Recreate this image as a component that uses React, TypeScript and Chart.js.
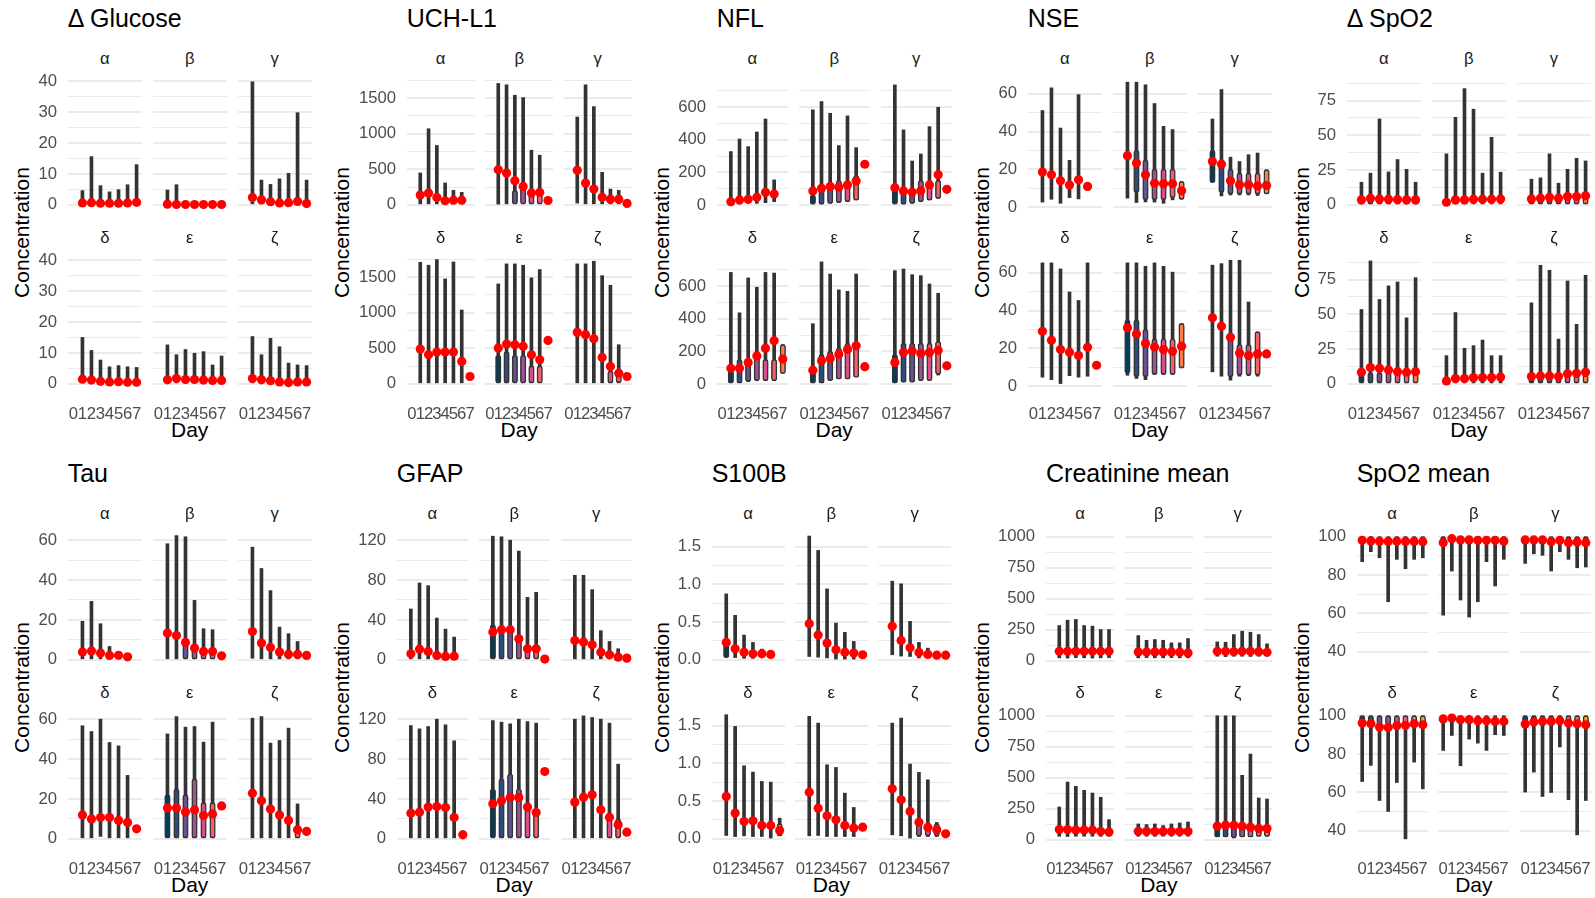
import React, { useEffect, useRef } from "react";
import { Chart, registerables } from "chart.js";
Chart.register(...registerables);

const FONT = '"Liberation Sans", Arial, Helvetica, sans-serif';
const PALETTE = ["#003f5c", "#2f4b7c", "#665191", "#a05195", "#d45087", "#f95d6a", "#ff7c43", "#ffa600"];
const FACET_LABELS = ["α", "β", "γ", "δ", "ε", "ζ"];
const DAYS = [0, 1, 2, 3, 4, 5, 6, 7];
const DAY_LABELS = ["0", "1", "2", "3", "4", "5", "6", "7"];
const N = null;
const E = [N, N, N, N, N, N, N, N];

// ---------- Δ Glucose ----------
const glucoseMax = [
  [N, 4.6, 15.6, 6.2, 4.2, 4.9, 6.5, 13],
  [N, 4.8, 6.5, 0.8, 0.6, 0.6, 0.6, 0.6],
  [N, 39.8, 8, 6.6, 8.4, 10.2, 29.8, 8],
  [N, 15, 10.8, 7.7, 5.5, 5.9, 5.5, 5.3],
  [N, 12.6, 9.4, 11.1, 9.9, 10.4, 6.1, 9],
  [N, 15.3, 9.4, 14.7, 12, 6.7, 6.1, 5.9],
];
const glucoseMin = [
  [N, 0, 0, 0, 0, 0, 0, 0],
  [N, 0, 0, 0, 0, 0, 0, 0],
  [N, 0, 0, 0, 0, 0, 0, 0],
  [N, 0, 0, 0, 0, 0, 0, 0],
  [N, 0, 0, 0, 0, 0, 0, 0],
  [N, 0, 0, 0, 0, 0, 0, 0],
];
const glucoseMean = [
  [N, 0.6, 0.7, 0.5, 0.5, 0.5, 0.6, 0.8],
  [N, 0.2, 0.1, 0.1, 0.1, 0.1, 0.1, 0.1],
  [N, 2.4, 1.6, 1, 0.6, 0.7, 1.1, 0.4],
  [N, 1.5, 1.2, 0.8, 0.6, 0.7, 0.5, 0.5],
  [N, 1.3, 1.7, 1.4, 1.4, 1.2, 1.1, 1.1],
  [N, 1.7, 1.3, 1, 0.6, 0.4, 0.6, 0.6],
];

// ---------- UCH-L1 ----------
const uchMax = [
  [N, 448, 1071, 835, 307, 203, 175, N],
  [N, 1708, 1689, 1542, 1509, 769, 698, N],
  [N, 1236, 1689, 1382, 458, 222, 203, N],
  [N, 1711, 1669, 1749, 1476, 1716, 1039, 140],
  [N, 1406, 1688, 1688, 1669, 1490, 1608, N],
  [N, 1688, 1688, 1725, 1523, 1387, 550, N],
];
const uchMin = [
  [N, 0, 0, 0, 0, 0, 0, N],
  [N, 10, 0, 0, 0, 0, 0, N],
  [N, 24, 0, 0, 0, 0, 0, N],
  [N, 0, 0, 0, 0, 0, 0, 60],
  [N, 0, 0, 0, 0, 0, 0, N],
  [N, 0, 0, 0, 0, 0, 0, N],
];
const uchMean = [
  [N, 137, 165, 104, 57, 66, 66, N],
  [N, 495, 448, 340, 259, 165, 175, 61],
  [N, 486, 307, 222, 108, 80, 80, 19],
  [N, 489, 409, 447, 447, 447, 315, 103],
  [N, 503, 560, 550, 527, 409, 338, 611],
  [N, 724, 691, 635, 371, 244, 150, 103],
];
const uchBody = [
  E,
  [N, N, N, [0, 200], [0, 250], [0, 150], [0, 150], N],
  E,
  E,
  [N, [0, 400], [0, 450], [0, 400], [0, 400], [0, 250], [0, 250], N],
  [N, N, N, N, N, [0, 180], [20, 180], N],
];

// ---------- NFL ----------
const nflMax = [
  [N, 328, 405, 358, 448, 528, 154, N],
  [N, 584, 635, 563, 365, 547, 352, N],
  [N, 737, 461, 270, 313, 481, 600, N],
  [N, 685, 437, 651, 594, 685, 681, 242],
  [N, 370, 750, 675, 578, 569, 675, N],
  [N, 696, 706, 671, 665, 614, 557, N],
];
const nflMin = [
  [N, 6, 6, 10, 10, 14, 20, N],
  [N, 6, 6, 10, 14, 20, 31, N],
  [N, 0, 6, 10, 20, 31, 41, N],
  [N, 8, 8, 14, 20, 20, 20, 65],
  [N, 8, 8, 24, 35, 35, 45, N],
  [N, 8, 14, 14, 20, 24, 55, N],
];
const nflMean = [
  [N, 20, 31, 35, 47, 78, 68, N],
  [N, 86, 102, 113, 109, 123, 147, 250],
  [N, 106, 86, 78, 88, 123, 186, 96],
  [N, 96, 96, 132, 171, 220, 266, 153],
  [N, 85, 142, 157, 183, 212, 234, 106],
  [N, 132, 193, 203, 187, 193, 207, 112],
];
const nflBody = [
  E,
  [N, [5, 60], [5, 120], [10, 140], [15, 150], [20, 150], [30, 180], N],
  [N, [0, 100], [5, 100], [10, 100], [20, 150], [30, 130], [40, 150], N],
  [N, [5, 80], [5, 150], [15, 150], [20, 200], [20, 150], [20, 150], [65, 242]],
  [N, [5, 80], [5, 180], [20, 200], [30, 220], [30, 250], [40, 250], N],
  [N, [5, 180], [10, 250], [10, 250], [20, 250], [20, 250], [60, 260], N],
];

// ---------- NSE ----------
const nseMax = [
  [N, 51.2, 63.2, 41.9, 24.8, 59.6, 12.7, N],
  [N, 66.2, 66.2, 64.8, 54.9, 42.8, 41.1, 13.6],
  [N, 46.7, 62.3, 26.5, 24.2, 27.8, 28.7, 19.8],
  [N, 65.3, 65.3, 62.1, 49.9, 45.4, 65.3, N],
  [N, 65.3, 65.3, 63.5, 65.3, 63.5, 60.4, 33.2],
  [N, 64.1, 64.9, 66.7, 66.7, 44.6, 28.8, N],
];
const nseMin = [
  [N, 2.7, 4.2, 2.1, 5.1, 4.4, 8.8, N],
  [N, 4.8, 2.5, 2.8, 2.7, 2.1, 3.9, 4.2],
  [N, 13.1, 6, 6.5, 6.5, 6.5, 6.2, 7.1],
  [N, 4.8, 3.5, 1.4, 5.6, 4.8, 5.3, N],
  [N, 5.8, 4.1, 3.5, 6.2, 6.2, 6.2, 9.7],
  [N, 7.6, 5.3, 3.2, 5.3, 5.6, 5.3, N],
];
const nseMean = [
  [N, 18.6, 17.2, 14, 11.7, 14.5, 11, N],
  [N, 27.3, 23.4, 17.2, 12.7, 12.4, 12.4, 8.7],
  [N, 24.2, 22.8, 14, 11.9, 11.9, 11.3, 11.5],
  [N, 29.1, 24.4, 19.4, 18, 16.2, 20.6, 11.1],
  [N, 30.9, 27.7, 22.6, 20.8, 19.4, 18.5, 21.2],
  [N, 36.2, 31.8, 25.9, 17.6, 16.2, 17.1, 17.1],
];
const nseBody = [
  E,
  [N, N, [8, 30], [4, 25], [4, 20], [4, 20], [5, 20], [4.2, 13.6]],
  [N, [13.1, 30], [8, 25], [7, 20], [7, 18], [7, 18], [7, 18], [7.1, 19.8]],
  E,
  [N, [7, 35], [5, 35], [5, 30], [6.2, 25], [6.2, 25], [6.2, 25], [9.7, 33.2]],
  [N, N, N, [5, 25], [6, 22], [6, 22], [6, 28.8], N],
];

// ---------- Δ SpO2 ----------
const dSpo2Max = [
  [N, 16.3, 22.8, 61.8, 23.7, 32.6, 25.6, 16.3],
  [N, 36.7, 63, 83.6, 68.8, 22.8, 48.6, 23.5],
  [N, 18.5, 19.4, 36.7, 15.6, 25.6, 33.5, 31.6],
  [N, 53.5, 88.4, 60.7, 70.5, 73.3, 47.5, 76.4],
  [N, 20.3, 51.3, 25.6, 27.5, 31.5, 20.3, 20.3],
  [N, 58.3, 85.3, 81.7, 32.2, 74, 42.8, 78.1],
];
const dSpo2Min = [
  [N, 0, 0, 0, 0, 0, 0, 0],
  [N, 0, 0, 0, 0, 0, 0, 0],
  [N, 0, 0, 0, 0, 0, 0, 0],
  [N, 0, 0, 0, 0, 0, 0, 0],
  [N, 0, 0, 0, 0, 0, 0, 0],
  [N, 0, 0, 0, 0, 0, 0, 0],
];
const dSpo2Mean = [
  [N, 3.6, 4.8, 4.3, 4.1, 3.8, 3.6, 3.6],
  [N, 1.9, 3.6, 3.6, 4.1, 4.1, 4.1, 4.3],
  [N, 4.3, 4.8, 5.5, 4.8, 6, 6, 6.5],
  [N, 8.4, 11.7, 11.2, 10, 8.8, 8.4, 8.8],
  [N, 2.1, 3.8, 3.8, 4.5, 4.5, 4.5, 5],
  [N, 5.3, 5.7, 5.7, 5.3, 7.2, 7.6, 8.4],
];
const dSpo2Body = [
  [N, [0, 6], [0, 6], [0, 6], [0, 6], [0, 6], [0, 6], [0, 6]],
  E,
  [N, [0, 6], [0, 6], [0, 6], [0, 6], [0, 6], [0, 6], [0, 6]],
  [N, [0, 8], [0, 8], [0, 8], [0, 8], [0, 8], [0, 8], [0, 8]],
  E,
  [N, [0, 6], [0, 6], [0, 6], [0, 6], [0, 6], [0, 6], [0, 6]],
];

// ---------- Tau ----------
const tauMax = [
  [N, 19.3, 29.3, 18.1, 6.7, 4.2, 2.5, N],
  [N, 58.2, 62.3, 61.7, 29.8, 15.6, 15.1, N],
  [N, 56.5, 45.8, 34.7, 16.4, 13.1, 9.2, N],
  [N, 56.7, 53.8, 60, 48.3, 46.6, 31.8, N],
  [N, 52.6, 61.3, 56, 56.3, 48.5, 58.5, N],
  [N, 60.5, 61.3, 48, 49.3, 55.5, 17.5, N],
];
const tauMin = [
  [N, 0, 0, 0, 0, 0, 0, N],
  [N, 0, 0, 0, 0, 0, 0, N],
  [N, 0.8, 0, 0, 0, 0, 0, N],
  [N, 0, 0, 1.2, 0, 0, 0, N],
  [N, 0, 0, 0, 0, 0, 0, N],
  [N, 0, 0, 0, 0, 0, 0, N],
];
const tauMean = [
  [N, 3.9, 4.4, 3.4, 2.2, 2.3, 1.5, N],
  [N, 13.4, 12.2, 8.7, 5.9, 4.2, 4.2, 2],
  [N, 14.2, 8.4, 6.2, 3.9, 2.8, 2.7, 2.2],
  [N, 12, 9.9, 10.7, 10.7, 9.2, 8.2, 5],
  [N, 15.4, 15.4, 13.4, 14.5, 11.7, 12.5, 16.5],
  [N, 22.9, 19.1, 14.9, 12, 9.2, 4.5, 3.7],
];
const tauBody = [
  E,
  [N, N, N, [0, 10], [0, 8], [0, 6], [0, 6], N],
  E,
  E,
  [N, [0, 22], [0, 25], [0, 22], [0, 30], [0, 18], [0, 18], N],
  [N, N, N, N, N, N, [0, 6], N],
];

// ---------- GFAP ----------
const gfapMax = [
  [N, 51, 77.1, 74.4, 41.9, 30.8, 22.8, N],
  [N, 124, 123.4, 120, 109, 62.7, 67.7, N],
  [N, 84.8, 84.8, 70.4, 29.2, 18.4, 11.1, N],
  [N, 113.6, 110.3, 112.6, 120, 114.3, 98.3, 8],
  [N, 118.6, 117, 115.3, 120, 117.6, 116, N],
  [N, 120, 123.3, 121.7, 120, 116, 74.9, N],
];
const gfapMin = [
  [N, 0, 0, 0, 0, 0, 0, N],
  [N, 0, 0, 0, 0, 0, 0, N],
  [N, 0, 0, 0, 0, 0, 0, N],
  [N, 0, 0, 0, 0, 0, 0, 0],
  [N, 0, 0, 0, 0, 0, 0, N],
  [N, 0, 0, 0, 0, 0, 0, N],
];
const gfapMean = [
  [N, 6, 10.7, 8.4, 4.4, 3.4, 3.7, N],
  [N, 27.8, 30.2, 30.2, 21.1, 11.1, 11.1, 0.7],
  [N, 19.4, 17.8, 15.1, 7.7, 5, 2.7, 1.7],
  [N, 25.7, 26.7, 31.8, 32.4, 31.4, 21.4, 4],
  [N, 35.1, 38.1, 41.4, 41.4, 31.8, 26.4, 67.5],
  [N, 36.8, 41.8, 44.1, 29.1, 21.7, 14, 6.7],
];
const gfapBody = [
  E,
  [N, [0, 35], [0, 30], [0, 28], [0, 22], [0, 15], [0, 15], N],
  E,
  [N, N, N, N, N, N, N, [0, 8]],
  [N, [0, 50], [0, 60], [0, 65], [0, 50], [0, 35], [0, 28], N],
  [N, N, N, N, N, [0, 20], [0, 20], N],
];

// ---------- S100B ----------
const s100bMax = [
  [N, 0.874, 0.59, 0.328, 0.231, 0.142, 0.11, N],
  [N, 1.642, 1.451, 0.941, 0.488, 0.364, 0.244, 0.1],
  [N, 1.043, 1.008, 0.51, 0.231, 0.155, 0.11, N],
  [N, 1.646, 1.491, 0.969, 0.885, 0.761, 0.752, 0.274],
  [N, 1.624, 1.535, 0.982, 0.947, 0.606, 0.416, N],
  [N, 1.535, 1.602, 0.991, 0.881, 0.783, 0.217, N],
];
const s100bMin = [
  [N, 0.035, 0.03, 0.02, 0.02, 0.03, 0.04, N],
  [N, 0.044, 0.035, 0.025, 0.01, 0.01, 0.01, 0.06],
  [N, 0.067, 0.05, 0.044, 0.025, 0.03, 0.04, N],
  [N, 0.044, 0.03, 0.04, 0.03, 0.03, 0.01, 0.04],
  [N, 0.04, 0.044, 0.03, 0.03, 0.03, 0.03, N],
  [N, 0.053, 0.04, 0.01, 0.03, 0.03, 0.03, N],
];
const s100bMean = [
  [N, 0.231, 0.146, 0.102, 0.08, 0.08, 0.071, N],
  [N, 0.479, 0.328, 0.222, 0.133, 0.102, 0.089, 0.067],
  [N, 0.444, 0.257, 0.16, 0.098, 0.071, 0.062, 0.062],
  [N, 0.562, 0.341, 0.23, 0.239, 0.177, 0.177, 0.111],
  [N, 0.619, 0.407, 0.305, 0.252, 0.177, 0.142, 0.155],
  [N, 0.664, 0.518, 0.363, 0.221, 0.155, 0.119, 0.066],
];
const s100bBody = [
  [N, [0.03, 0.25], N, N, N, N, N, N],
  E,
  E,
  [N, N, N, N, N, N, N, [0.04, 0.2]],
  E,
  [N, N, N, N, [0.04, 0.2], [0.04, 0.2], [0.04, 0.2], N],
];

// ---------- Creatinine mean ----------
const creatMax = [
  [N, 283, 326, 332, 283, 278, 251, 251],
  [N, 202, 164, 170, 164, 143, 143, 178],
  [N, 151, 148, 210, 237, 229, 210, 135],
  [N, 263, 465, 430, 398, 376, 341, 161],
  [N, 126, 121, 126, 113, 126, 134, 142],
  [N, 1000, 1000, 1000, 519, 691, 336, 328],
];
const creatMin = [
  [N, 22, 20, 24, 22, 20, 22, 24],
  [N, 22, 24, 22, 22, 24, 22, 22],
  [N, 35, 32, 35, 35, 33, 35, 35],
  [N, 27, 25, 27, 27, 27, 26, 27],
  [N, 27, 27, 26, 27, 27, 27, 27],
  [N, 27, 27, 13, 27, 27, 27, 27],
];
const creatMean = [
  [N, 75, 75, 75, 75, 75, 75, 75],
  [N, 70, 70, 70, 70, 70, 68, 62],
  [N, 75, 75, 72, 75, 75, 72, 67],
  [N, 81, 81, 78, 78, 78, 67, 62],
  [N, 67, 67, 65, 65, 65, 65, 65],
  [N, 108, 116, 116, 108, 100, 89, 89],
];
const creatBody = [
  E,
  E,
  E,
  E,
  E,
  [N, [20, 100], [20, 100], [15, 100], [20, 100], [20, 100], [25, 100], [25, 100]],
];

// ---------- SpO2 mean ----------
const spo2Max = [
  [100, 100, 100, 100, 100, 100, 100, 100],
  [100, 100, 100, 100, 100, 100, 100, 100],
  [100, 100, 100, 100, 100, 100, 100, 100],
  [100, 100, 100, 100, 100, 100, 100, 100],
  [100, 100, 100, 100, 100, 100, 100, 100],
  [100, 100, 100, 100, 100, 100, 100, 100],
];
const spo2Min = [
  [87, 92.2, 89, 66.1, 88.2, 83.3, 88.2, 89],
  [59.1, 82.1, 67, 58.1, 66.1, 87, 74.3, 88.2],
  [86.1, 91.1, 90.3, 82.1, 92.2, 88.2, 83.8, 84.2],
  [65.7, 74.1, 55.8, 50.1, 65.2, 35.8, 75.8, 61.9],
  [81.9, 89.7, 73.9, 87.8, 85.7, 81.9, 90.1, 89.7],
  [60.2, 70.6, 57.9, 60, 83.7, 56.2, 37.9, 55.8],
];
const spo2Mean = [
  [98.1, 97.8, 97.6, 97.5, 97.6, 97.5, 97.5, 97.4],
  [96.9, 99, 98.3, 98.3, 98.1, 98.1, 98.1, 97.7],
  [98.3, 98.3, 98.3, 97.4, 98.1, 96.9, 97.2, 96.9],
  [96.2, 95.8, 94.1, 93.9, 94.8, 95, 95.8, 95.3],
  [98.3, 98.8, 97.9, 97.9, 97.4, 97.4, 97, 97],
  [95.7, 96.7, 97, 97, 97.4, 96.2, 95.8, 95.3],
];
const spo2Body = [
  [[97, 100], [97, 100], [97, 100], [97, 100], [97, 100], [97, 100], [97, 100], [97, 100]],
  [[97, 100], [97, 100], [97, 100], [97, 100], [97, 100], [97, 100], [97, 100], [97, 100]],
  [[97, 100], [97, 100], [97, 100], [97, 100], [97, 100], [97, 100], [97, 100], [97, 100]],
  [[95.5, 100], [95.5, 100], [95.5, 100], [95.5, 100], [95.5, 100], [95.5, 100], [95.5, 100], [95.5, 100]],
  E,
  [[96, 100], [96, 100], [96, 100], [96, 100], [96, 100], [96, 100], [96, 100], [96, 100]],
];

// ---------- axis ticks ----------
const glucoseMajor = [0, 10, 20, 30, 40], glucoseMinor = [5, 15, 25, 35];
const uchMajor = [0, 500, 1000, 1500], uchMinor = [250, 750, 1250, 1750];
const nflMajor = [0, 200, 400, 600], nflMinor = [100, 300, 500, 700];
const nseMajor = [0, 20, 40, 60], nseMinor = [10, 30, 50];
const dSpo2Major = [0, 25, 50, 75], dSpo2Minor = [12.5, 37.5, 62.5, 87.5];
const tauMajor = [0, 20, 40, 60], tauMinor = [10, 30, 50];
const gfapMajor = [0, 40, 80, 120], gfapMinor = [20, 60, 100];
const s100bMajor = [0, 0.5, 1, 1.5], s100bMinor = [0.25, 0.75, 1.25];
const creatMajor = [0, 250, 500, 750, 1000], creatMinor = [125, 375, 625, 875];
const spo2Major = [40, 60, 80, 100], spo2Minor = [50, 70, 90];

const PANELS = [
  { title: "Δ Glucose", max: glucoseMax, min: glucoseMin, mean: glucoseMean, body: null, y: [-2, 42], major: glucoseMajor, minor: glucoseMinor, dec: 0, off: 1 },
  { title: "UCH-L1", max: uchMax, min: uchMin, mean: uchMean, body: uchBody, y: [-87, 1827], major: uchMajor, minor: uchMinor, dec: 0, off: 1 },
  { title: "NFL", max: nflMax, min: nflMin, mean: nflMean, body: nflBody, y: [-37, 798], major: nflMajor, minor: nflMinor, dec: 0, off: 1 },
  { title: "NSE", max: nseMax, min: nseMin, mean: nseMean, body: nseBody, y: [-2, 70], major: nseMajor, minor: nseMinor, dec: 0, off: 1 },
  { title: "Δ SpO2", max: dSpo2Max, min: dSpo2Min, mean: dSpo2Mean, body: dSpo2Body, y: [-4.4, 93.4], major: dSpo2Major, minor: dSpo2Minor, dec: 0, off: 1 },
  { title: "Tau", max: tauMax, min: tauMin, mean: tauMean, body: tauBody, y: [-3.1, 65.1], major: tauMajor, minor: tauMinor, dec: 0, off: 1 },
  { title: "GFAP", max: gfapMax, min: gfapMin, mean: gfapMean, body: gfapBody, y: [-6.2, 130.2], major: gfapMajor, minor: gfapMinor, dec: 0, off: 1 },
  { title: "S100B", max: s100bMax, min: s100bMin, mean: s100bMean, body: s100bBody, y: [-0.082, 1.722], major: s100bMajor, minor: s100bMinor, dec: 1, off: 1 },
  { title: "Creatinine mean", max: creatMax, min: creatMin, mean: creatMean, body: creatBody, y: [-44, 1055], major: creatMajor, minor: creatMinor, dec: 0, off: 1 },
  { title: "SpO2 mean", max: spo2Max, min: spo2Min, mean: spo2Mean, body: spo2Body, y: [32.6, 103.5], major: spo2Major, minor: spo2Minor, dec: 0, off: 0 },
];

// ---------- layout (pixels) ----------
const PANEL_X0 = [0, 320, 640, 960, 1280, 0, 320, 640, 960, 1280];
const PANEL_L = [67.7, 406.7, 716.7, 1027.7, 1346.7, 67.7, 396.7, 711.7, 1046, 1356.7];
const PANEL_R = [311.7, 631.7, 951.7, 1271.7, 1591, 311.7, 631.7, 951, 1271.7, 1591];
const ROW_TOP = [[75, 254], [530, 709]];
const FACET_H = 136;
const GAP = 10.7;
const YW = 70;
const XH = 30;
const PAD = 8;

function zeroPad(s: any) {
  s.paddingTop = 0;
  s.paddingBottom = 0;
  s.paddingLeft = 0;
  s.paddingRight = 0;
}

function Facet(props: { p: number; f: number; x: number; y: number; w: number; showY: boolean; showX: boolean }) {
  const { p, f, x, y, w, showY, showX } = props;
  const ref = useRef<HTMLCanvasElement>(null);
  const yw = showY ? YW : 0;
  const xh = showX ? XH : 0;
  const padL = showY ? 0 : PAD;
  const padB = showX ? 0 : PAD;
  const cw = Math.round(padL + yw + w + PAD);
  const ch = PAD + FACET_H + xh + padB;
  useEffect(() => {
    const spec: any = PANELS[p];
    const maxA = spec.max[f], minA = spec.min[f], meanA = spec.mean[f];
    const bodyA = spec.body ? spec.body[f] : E;
    const lineData: any[] = [], pointData: any[] = [], bodyData: any[] = [], bodyColors: string[] = [];
    DAYS.forEach((d) => {
      if (maxA[d] != null && minA[d] != null) lineData.push({ x: d, y: [minA[d], maxA[d]] });
      if (meanA[d] != null) pointData.push({ x: d, y: meanA[d] });
      if (bodyA[d]) {
        bodyData.push({ x: d, y: bodyA[d] });
        bodyColors.push(PALETTE[d - spec.off]);
      }
    });
    const allTicks = [...spec.major, ...spec.minor];
    const chart = new Chart(ref.current as HTMLCanvasElement, {
      type: "bar",
      data: {
        datasets: [
          { type: "scatter", data: pointData, order: 0, pointRadius: 4.6, pointHoverRadius: 4.6, backgroundColor: "#ff0000", borderColor: "#ff0000", borderWidth: 0, clip: false } as any,
          { type: "bar", data: bodyData, order: 1, backgroundColor: bodyColors, borderColor: "#333333", borderWidth: 1.5, borderSkipped: false, barThickness: 5.5, grouped: false, borderRadius: 2.5, clip: false } as any,
          { type: "bar", data: lineData, order: 2, backgroundColor: "#333333", borderWidth: 0, barThickness: 3, grouped: false, clip: false } as any,
        ],
      },
      options: {
        animation: false,
        responsive: false,
        devicePixelRatio: 1,
        events: [],
        layout: { padding: { top: PAD, bottom: padB, left: padL, right: PAD } },
        plugins: { legend: { display: false }, tooltip: { enabled: false }, title: { display: false } },
        scales: {
          x: {
            type: "linear",
            min: -0.6,
            max: 7.6,
            offset: false,
            display: showX,
            grid: { display: false },
            border: { display: false },
            afterBuildTicks: (s: any) => { s.ticks = DAYS.map((v) => ({ value: v })); },
            afterFit: (s: any) => { s.height = xh; zeroPad(s); },
            ticks: {
              autoSkip: false, maxRotation: 0, minRotation: 0, padding: 6, color: "#4d4d4d",
              font: { family: FONT, size: 16.7 },
              callback: (v: any) => DAY_LABELS[v] ?? "",
            },
          },
          y: {
            type: "linear",
            min: spec.y[0],
            max: spec.y[1],
            display: true,
            border: { display: false },
            grid: {
              color: "#ebebeb",
              drawTicks: false,
              lineWidth: (ctx: any) => (ctx.tick && spec.major.includes(ctx.tick.value) ? 2 : 1),
            },
            afterBuildTicks: (s: any) => { s.ticks = allTicks.map((v: number) => ({ value: v })); },
            afterFit: (s: any) => { s.width = yw; zeroPad(s); },
            ticks: {
              display: showY, autoSkip: false, padding: 11, color: "#4d4d4d",
              font: { family: FONT, size: 16.7 },
              callback: (v: any) => (spec.major.includes(v) ? Number(v).toFixed(spec.dec) : ""),
            },
          },
        } as any,
      },
    });
    return () => chart.destroy();
  }, []);
  return (
    <canvas
      ref={ref}
      width={cw}
      height={ch}
      style={{ position: "absolute", left: x - yw - padL, top: y - PAD, width: cw, height: ch, display: "block" }}
    />
  );
}

const BASE = 0.8465;

export default function App() {
  useEffect(() => {
    document.body.style.margin = "0";
  }, []);
  const items: any[] = [];
  PANELS.forEach((spec, p) => {
    const row = p < 5 ? 0 : 1;
    const shift = row === 0 ? 0 : 455;
    const L = PANEL_L[p], R = PANEL_R[p];
    const w = (R - L - 2 * GAP) / 3;
    items.push(
      <div key={`t${p}`} style={{ position: "absolute", left: L, top: 27.3 + shift - BASE * 25, fontSize: 25, lineHeight: "25px", color: "#000", whiteSpace: "nowrap" }}>
        {spec.title}
      </div>
    );
    items.push(
      <div key={`yl${p}`} style={{ position: "absolute", left: PANEL_X0[p] + 21, top: (ROW_TOP[row][0] + ROW_TOP[row][1] + FACET_H) / 2, width: 300, marginLeft: -150, marginTop: -10.5, textAlign: "center", fontSize: 21, lineHeight: "21px", color: "#000", transform: "rotate(-90deg)", whiteSpace: "nowrap" }}>
        Concentration
      </div>
    );
    items.push(
      <div key={`xl${p}`} style={{ position: "absolute", left: (L + R) / 2 - 100, width: 200, top: ROW_TOP[row][1] + FACET_H + 46.3 - BASE * 21, textAlign: "center", fontSize: 21, lineHeight: "21px", color: "#000", whiteSpace: "nowrap" }}>
        Day
      </div>
    );
    for (let f = 0; f < 6; f++) {
      const r = f < 3 ? 0 : 1;
      const c = f % 3;
      const fx = L + c * (w + GAP);
      const fy = ROW_TOP[row][r];
      items.push(
        <div key={`s${p}_${f}`} style={{ position: "absolute", left: fx, width: w, top: fy - 10 - BASE * 16.7, textAlign: "center", fontSize: 16.7, lineHeight: "16.7px", color: "#1a1a1a", whiteSpace: "nowrap" }}>
          {FACET_LABELS[f]}
        </div>
      );
      items.push(<Facet key={`f${p}_${f}`} p={p} f={f} x={fx} y={fy} w={w} showY={c === 0} showX={r === 1} />);
    }
  });
  return (
    <div style={{ position: "fixed", left: 0, top: 0, width: 1595, height: 898, overflow: "hidden", background: "#ffffff", fontFamily: FONT }}>
      {items}
    </div>
  );
}
